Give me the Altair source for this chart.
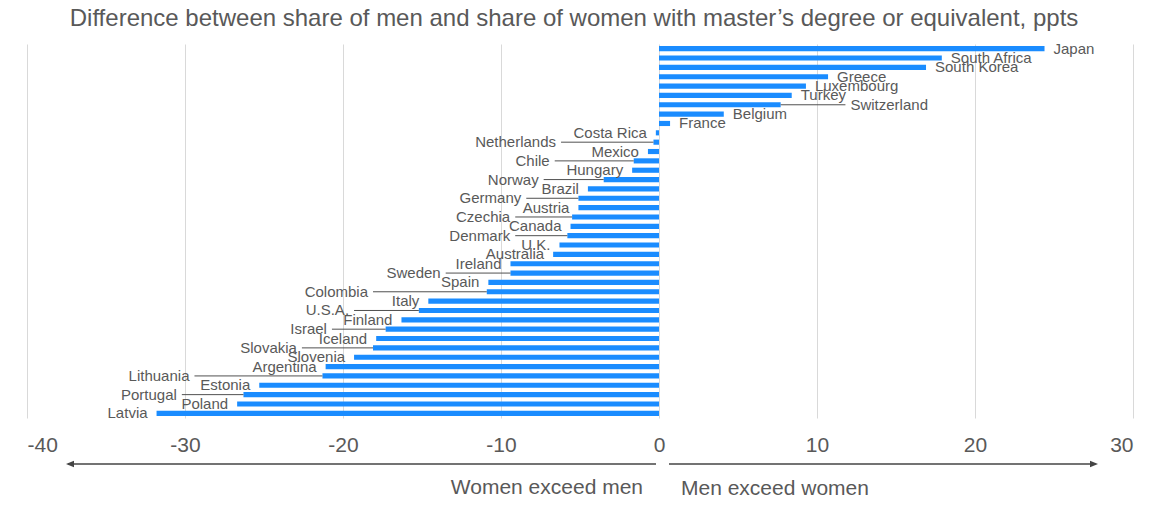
import altair as alt
import pandas as pd

TITLE = "Difference between share of men and share of women with master\u2019s degree or equivalent, ppts"

countries = [
    "Japan", "South Africa", "South Korea", "Greece", "Luxembourg", "Turkey",
    "Switzerland", "Belgium", "France", "Costa Rica", "Netherlands", "Mexico",
    "Chile", "Hungary", "Norway", "Brazil", "Germany", "Austria", "Czechia",
    "Canada", "Denmark", "U.K.", "Australia", "Ireland", "Sweden", "Spain",
    "Colombia", "Italy", "U.S.A.", "Finland", "Israel", "Iceland", "Slovakia",
    "Slovenia", "Argentina", "Lithuania", "Estonia", "Portugal", "Poland", "Latvia",
]
values = [
    24.4, 17.9, 16.9, 10.7, 9.3, 8.4,
    7.7, 4.1, 0.7, -0.2, -0.35, -0.7,
    -1.6, -1.7, -3.5, -4.5, -5.1, -5.1, -5.5,
    -5.6, -5.8, -6.3, -6.7, -9.4, -9.4, -10.8,
    -10.9, -14.6, -15.2, -16.3, -17.3, -17.9, -18.1,
    -19.3, -21.1, -21.3, -25.3, -26.3, -26.7, -31.8,
]

# labels that are pulled away from their bar with a leader line (annotation layout)
leader_countries = ["Switzerland", "Netherlands", "Chile", "Norway", "Germany", "Czechia",
                    "Denmark", "Sweden", "Colombia", "U.S.A.", "Israel", "Slovakia",
                    "Lithuania", "Portugal"]
leader_ends = [11.8, -6.2, -6.6, -7.3, -8.4, -9.1,
               -9.1, -13.5, -18.1, -19.3, -20.7, -22.6,
               -29.4, -30.2]

tick_values = [-40, -30, -20, -10, 0, 10, 20, 30]

lead = dict(zip(leader_countries, leader_ends))
df = pd.DataFrame({"country": countries, "value": values})
df["leader"] = [c in lead for c in countries]
df["label_x"] = [lead.get(c, v) for c, v in zip(countries, values)]

FONT = "Liberation Sans"
GRAY = "#595959"
BLUE = "#1a8cff"

x_scale = alt.Scale(domain=[-40, 30], nice=False, zero=False)
y_enc = alt.Y("country:N", sort=countries, axis=None,
              scale=alt.Scale(paddingInner=0.45, paddingOuter=0.225))

base = alt.Chart(df)

bars = base.mark_bar(color=BLUE).encode(
    x=alt.X("value:Q", scale=x_scale,
            axis=alt.Axis(values=tick_values, grid=True, gridColor="#d9d9d9", gridWidth=1,
                          domain=False, ticks=False, labelFontSize=21, labelColor=GRAY,
                          labelFont=FONT, labelPadding=27, labelBaseline="middle",
                          labelExpr="'' + datum.value", title=None)),
    x2=alt.datum(0),
    y=y_enc,
)

rules = base.transform_filter("datum.leader").mark_rule(color="#505050", strokeWidth=1).encode(
    x="value:Q", x2="label_x:Q", y=y_enc)

def labels(cond, align, dx, field):
    return base.transform_filter(cond).mark_text(
        align=align, baseline="middle", dx=dx, font=FONT, fontSize=15, color=GRAY
    ).encode(x=alt.X(f"{field}:Q"), y=y_enc, text="country:N")

t1 = labels("datum.value < 0 && !datum.leader", "right", -9, "value")
t2 = labels("datum.value > 0 && !datum.leader", "left", 9, "value")
t3 = labels("datum.value < 0 && datum.leader", "right", -5, "label_x")
t4 = labels("datum.value > 0 && datum.leader", "left", 5, "label_x")

one = pd.DataFrame({"t": [TITLE]})
ann = alt.Chart(one)

title = ann.mark_text(font=FONT, fontSize=24, color=GRAY, align="center", baseline="middle").encode(
    x=alt.value(547), y=alt.value(-25), text="t:N")

ARROW = "#444444"
left_line = ann.mark_rule(color=ARROW, strokeWidth=1.5).encode(
    x=alt.value(41), x2=alt.value(629), y=alt.value(420))
right_line = ann.mark_rule(color=ARROW, strokeWidth=1.5).encode(
    x=alt.value(642), x2=alt.value(1067), y=alt.value(420))
left_head = ann.mark_point(shape="M-1,0L1,-0.8L1,0.8Z", filled=True, size=64, color=ARROW, opacity=1).encode(
    x=alt.value(43), y=alt.value(420))
right_head = ann.mark_point(shape="M1,0L-1,-0.8L-1,0.8Z", filled=True, size=64, color=ARROW, opacity=1).encode(
    x=alt.value(1067), y=alt.value(420))

women = ann.mark_text(font=FONT, fontSize=21, color=GRAY, align="right", baseline="middle").encode(
    x=alt.value(616), y=alt.value(444), text=alt.value("Women exceed men"))
men = ann.mark_text(font=FONT, fontSize=21, color=GRAY, align="left", baseline="middle").encode(
    x=alt.value(654), y=alt.value(445), text=alt.value("Men exceed women"))

chart = alt.layer(
    bars, rules, t1, t2, t3, t4, title, left_line, right_line, left_head, right_head, women, men
).properties(
    width=1106, height=374,
    padding={"left": 19, "top": 36, "right": 10, "bottom": 81},
    autosize=alt.AutoSizeParams(type="none"),
).configure_view(stroke=None)

chart.save("out.html", embed_options={"renderer": "svg", "actions": False})
